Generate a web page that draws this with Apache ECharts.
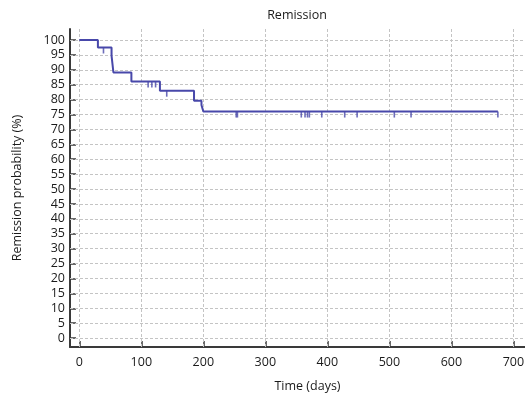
<!DOCTYPE html>
<html>
<head>
<meta charset="utf-8">
<script src="https://cdn.jsdelivr.net/npm/echarts@6/dist/echarts.min.js"></script>
<style>
html,body{margin:0;padding:0;background:#fff;overflow:hidden;width:525px;height:398px;}
#chart{width:545px;height:398px;}
</style>
</head>
<body>
<div id="chart"></div>
<script>
// Kaplan-Meier step points (time in days, remission probability %)
var stepTimes = [0, 30, 52, 55, 84, 130, 185, 197, 200, 675];
var stepValues = [100, 97.5, 94.8, 89.1, 86.1, 83.0, 79.6, 78.2, 76.0, 76.0];
// Censored observations
var censorTimes = [39, 111, 117, 123, 141, 253, 255, 358, 364, 368, 371, 391, 428, 448, 508, 535, 675];
var censorValues = [97.5, 86.1, 86.1, 86.1, 83.0, 76, 76, 76, 76, 76, 76, 76, 76, 76, 76, 76, 76];
// Tick labels
var xTicks = [0, 100, 200, 300, 400, 500, 600, 700];
var yTicks = [0,5,10,15,20,25,30,35,40,45,50,55,60,65,70,75,80,85,90,95,100];

var lineColor = '#4848aa';
var axisColor = '#3a3a3a';
var gridColor = '#c4c4c4';
var font = 'Open Sans';
var textColor = '#1a1a1a';

var stepData = stepTimes.map(function(t, i){ return [t, stepValues[i]]; });
var censorData = censorTimes.map(function(t, i){ return [t, censorValues[i]]; });
var gridLines = xTicks.map(function(v){ return {xAxis: v}; })
  .concat(yTicks.map(function(v){ return {yAxis: v}; }));

var chart = echarts.init(document.getElementById('chart'), null, {renderer: 'canvas'});
chart.setOption({
  animation: false,
  backgroundColor: '#fff',
  title: {
    text: 'Remission',
    left: 297,
    top: 9,
    padding: 0,
    textAlign: 'center',
    textStyle: {fontFamily: font, fontSize: 12.5, fontWeight: 'normal', color: textColor}
  },
  grid: {left: 70, right: 0, top: 29, bottom: 48, containLabel: false},
  xAxis: {
    type: 'value',
    min: -15,
    max: 751,
    name: 'Time (days)',
    nameLocation: 'middle',
    nameGap: 33,
    nameTextStyle: {fontFamily: font, fontSize: 12.5, color: textColor},
    axisLine: {onZero: false, lineStyle: {color: axisColor, width: 2}},
    axisTick: {show: true, inside: true, length: 6, customValues: xTicks, lineStyle: {color: axisColor, width: 1.5}},
    axisLabel: {customValues: xTicks, margin: 9, fontFamily: font, fontSize: 12.5, color: textColor},
    splitLine: {show: false}
  },
  yAxis: {
    type: 'value',
    min: -3,
    max: 103.7,
    name: 'Remission probability (%)',
    nameLocation: 'middle',
    nameGap: 46,
    nameTextStyle: {fontFamily: font, fontSize: 12.5, color: textColor},
    axisLine: {show: true, onZero: false, lineStyle: {color: axisColor, width: 2}},
    axisTick: {show: true, inside: true, length: 6, customValues: yTicks, lineStyle: {color: axisColor, width: 1.5}},
    axisLabel: {customValues: yTicks, margin: 5, fontFamily: font, fontSize: 12.5, color: textColor},
    splitLine: {show: false}
  },
  series: [
    {
      type: 'line',
      step: 'end',
      data: stepData,
      showSymbol: false,
      symbol: 'none',
      lineStyle: {color: lineColor, width: 2},
      z: 3,
      markLine: {
        silent: true,
        symbol: ['none', 'none'],
        label: {show: false},
        lineStyle: {color: gridColor, width: 1, type: [3, 2]},
        emphasis: {disabled: true},
        data: gridLines,
        z: 1
      }
    },
    {
      type: 'scatter',
      data: censorData,
      symbol: 'rect',
      symbolSize: [1.6, 6],
      symbolOffset: [0, 3],
      itemStyle: {color: lineColor},
      z: 4
    }
  ]
});
</script>
</body>
</html>
